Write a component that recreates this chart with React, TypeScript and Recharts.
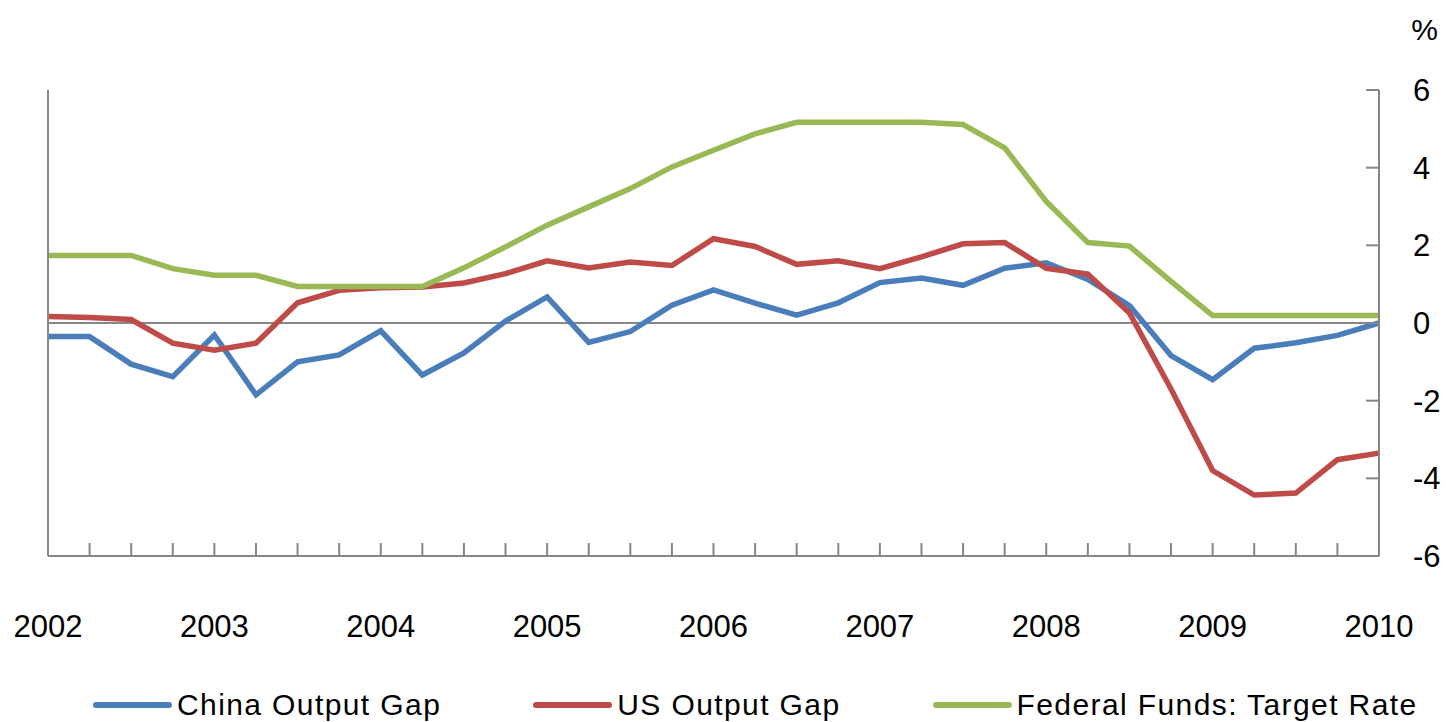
import React from 'react';
import {
  LineChart,
  Line,
  XAxis,
  YAxis,
  ReferenceLine,
  Legend,
} from 'recharts';

const years = ['2002', '2003', '2004', '2005', '2006', '2007', '2008', '2009', '2010'];

// quarterly, 2002Q1 .. 2010Q1
const chinaGap = [
  -0.35, -0.35, -1.06, -1.38, -0.31, -1.85, -1.0, -0.82, -0.2, -1.34, -0.77, 0.05,
  0.67, -0.5, -0.22, 0.46, 0.85, 0.51, 0.2, 0.52, 1.04, 1.16, 0.97, 1.41,
  1.55, 1.12, 0.45, -0.84, -1.46, -0.65, -0.51, -0.32, 0.0,
];
const usGap = [
  0.17, 0.14, 0.09, -0.52, -0.7, -0.52, 0.52, 0.84, 0.91, 0.93, 1.03, 1.27,
  1.6, 1.42, 1.57, 1.48, 2.17, 1.97, 1.51, 1.6, 1.4, 1.7, 2.04, 2.07,
  1.41, 1.26, 0.26, -1.7, -3.8, -4.43, -4.38, -3.52, -3.35,
];
const fedFunds = [
  1.74, 1.74, 1.74, 1.4, 1.23, 1.23, 0.94, 0.94, 0.94, 0.94, 1.42, 1.96,
  2.52, 2.99, 3.46, 4.02, 4.45, 4.87, 5.17, 5.17, 5.17, 5.17, 5.11, 4.51,
  3.13, 2.07, 1.98, 1.07, 0.19, 0.19, 0.19, 0.19, 0.19,
];
const yTicks = [-6, -4, -2, 0, 2, 4, 6];

const quarters: string[] = [];
years.forEach((y, i) => {
  const n = i === years.length - 1 ? 1 : 4;
  for (let q = 1; q <= n; q++) quarters.push(`${y}Q${q}`);
});

const data = quarters.map((q, i) => ({
  q,
  china: chinaGap[i],
  us: usGap[i],
  fed: fedFunds[i],
}));

const series = [
  { key: 'china', name: 'China Output Gap', color: '#4a7ebb' },
  { key: 'us', name: 'US Output Gap', color: '#be4b48' },
  { key: 'fed', name: 'Federal Funds: Target Rate', color: '#98b954' },
];

const AXIS = '#868686';
const FONT = '"Liberation Sans", Arial, sans-serif';

function formatQuarter(q: string): string {
  return q.endsWith('Q1') ? q.slice(0, 4) : '';
}

function ChartLegend() {
  return (
    <div style={{ display: 'flex', alignItems: 'center', paddingLeft: 93 }}>
      {series.map((s) => (
        <div key={s.key} style={{ display: 'flex', alignItems: 'center', marginRight: 92 }}>
          <svg width={79} height={8} style={{ marginRight: 5 }}>
            <line x1={3} y1={4} x2={76} y2={4} stroke={s.color} strokeWidth={6} strokeLinecap="round" />
          </svg>
          <span style={{ fontFamily: FONT, fontSize: 30, letterSpacing: 1.4, color: '#000', whiteSpace: 'nowrap' }}>
            {s.name}
          </span>
        </div>
      ))}
    </div>
  );
}

export default function App() {
  return (
    <div style={{ position: 'absolute', left: 0, top: 0, background: '#fff' }}>
      <LineChart
        width={1450}
        height={722}
        data={data}
        margin={{ top: 90, right: 0, left: 38, bottom: 76 }}
      >
        <XAxis
          dataKey="q"
          interval={0}
          tickFormatter={formatQuarter}
          tickSize={-13}
          tickMargin={72}
          height={90}
          stroke={AXIS}
          strokeWidth={2}
          tick={{ fill: '#000', fontSize: 31, fontFamily: FONT }}
        />
        <YAxis
          yAxisId="left"
          orientation="left"
          width={10}
          domain={[-6, 6]}
          ticks={yTicks}
          tickFormatter={() => ''}
          tickSize={-13}
          stroke={AXIS}
          strokeWidth={2}
        />
        <YAxis
          yAxisId="right"
          orientation="right"
          width={71}
          domain={[-6, 6]}
          ticks={yTicks}
          tickSize={-13}
          tickMargin={47}
          stroke={AXIS}
          strokeWidth={2}
          tick={{ fill: '#000', fontSize: 31, fontFamily: FONT }}
          label={{
            value: '%',
            position: 'top',
            offset: 50,
            dx: 10,
            fill: '#000',
            fontSize: 30,
            fontFamily: FONT,
          }}
        />
        <ReferenceLine yAxisId="right" y={0} stroke={AXIS} strokeWidth={2} />
        {series.map((s) => (
          <Line
            key={s.key}
            yAxisId="right"
            type="linear"
            dataKey={s.key}
            name={s.name}
            stroke={s.color}
            strokeWidth={5.5}
            dot={false}
            activeDot={false}
            isAnimationActive={false}
          />
        ))}
        <Legend
          verticalAlign="middle"
          align="center"
          wrapperStyle={{ top: 688, left: 0, width: 1450 }}
          content={() => <ChartLegend />}
        />
      </LineChart>
    </div>
  );
}
